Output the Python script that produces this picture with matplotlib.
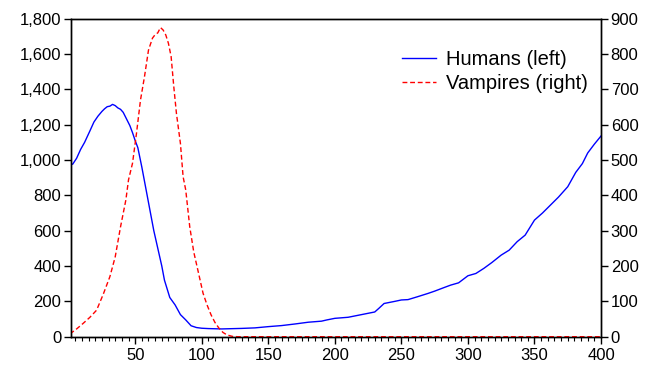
import matplotlib
matplotlib.use("Agg")
import matplotlib.pyplot as plt
from matplotlib.ticker import MultipleLocator, FuncFormatter

# values (period, level)
humans_t = [1, 3, 6, 9, 12, 16, 19, 22, 25, 27, 29, 31, 33, 35, 37, 39, 41, 43, 46, 48,
            50, 52, 55, 57, 60, 64, 67, 70, 72, 76, 80, 84, 88, 92, 96, 100, 105, 110,
            115, 120, 130, 140, 150, 160, 170, 180, 190, 194, 200, 210, 220, 230, 233,
            237, 245, 250, 255, 262, 270, 275, 282, 287, 293, 300, 306, 312, 318, 325,
            331, 337, 343, 350, 356, 362, 368, 375, 381, 386, 390, 395, 400]
humans = [981, 976, 1010, 1060, 1100, 1165, 1215, 1248, 1275, 1290, 1302, 1305, 1315,
          1308, 1295, 1287, 1270, 1240, 1195, 1155, 1110, 1070, 960, 880, 760, 600, 500,
          400, 320, 222, 180, 125, 95, 62, 52, 48, 46, 45, 44, 45, 47, 50, 57, 63, 72,
          82, 88, 95, 104, 110, 125, 140, 160, 188, 200, 208, 210, 226, 245, 258, 278,
          292, 305, 345, 358, 387, 420, 462, 490, 538, 575, 660, 700, 745, 790, 849, 930,
          980, 1040, 1090, 1136]

vampires_t = [1, 6, 11, 16, 21, 26, 31, 35, 39, 43, 45, 48, 51, 54, 57, 60, 63, 65, 67,
              69, 71, 73, 75, 77, 79, 81, 84, 86, 88, 91, 94, 97, 101, 104, 107, 110,
              113, 116, 119, 123, 127, 400]
vampires = [8, 22, 38, 55, 75, 120, 170, 226, 311, 387, 444, 491, 576, 670, 736, 811,
            845, 855, 860, 875, 868, 854, 830, 793, 708, 632, 547, 453, 415, 311, 240,
            190, 123, 90, 62, 40, 24, 12, 5, 1, 0, 0]

plt.rcParams['font.family'] = ['Liberation Sans', 'DejaVu Sans']
plt.rcParams['font.size'] = 12

fig = plt.figure(figsize=(6.48, 3.74), dpi=100)
ax = fig.add_axes([0.1096, 0.0997, 0.8179, 0.8503])
ax2 = ax.twinx()

l1, = ax.plot(humans_t, humans, color='#0000ff', lw=1.0, label='Humans (left)')
l2, = ax2.plot(vampires_t, vampires, color='#ff0000', lw=1.0, ls=(0, (3.5, 2)),
               label='Vampires (right)')

ax.set_xlim(1.8, 400)
ax.set_ylim(0, 1800)
ax2.set_ylim(0, 900)

ax.yaxis.set_major_locator(MultipleLocator(200))
ax2.yaxis.set_major_locator(MultipleLocator(100))
ax.xaxis.set_major_locator(MultipleLocator(50))
ax.xaxis.set_minor_locator(MultipleLocator(5))
ax.yaxis.set_major_formatter(FuncFormatter(lambda v, p: f'{int(v):,}'))

ax.tick_params(axis='x', which='major', length=5, width=1, direction='out', pad=3)
ax.tick_params(axis='x', which='minor', length=3, width=0.8, direction='out')
ax.tick_params(axis='y', length=5, width=1, direction='out', pad=2)
ax2.tick_params(axis='y', length=5, width=1, direction='out', pad=2)

for a in (ax, ax2):
    for s in a.spines.values():
        s.set_linewidth(1.0)

ax.legend(handles=[l1, l2], loc='upper right', bbox_to_anchor=(0.991, 0.926),
          frameon=False, handlelength=1.7, handletextpad=0.5, labelspacing=0.22,
          borderaxespad=0, borderpad=0.4, fontsize=14.5)

fig.savefig('out.png', dpi=100)
